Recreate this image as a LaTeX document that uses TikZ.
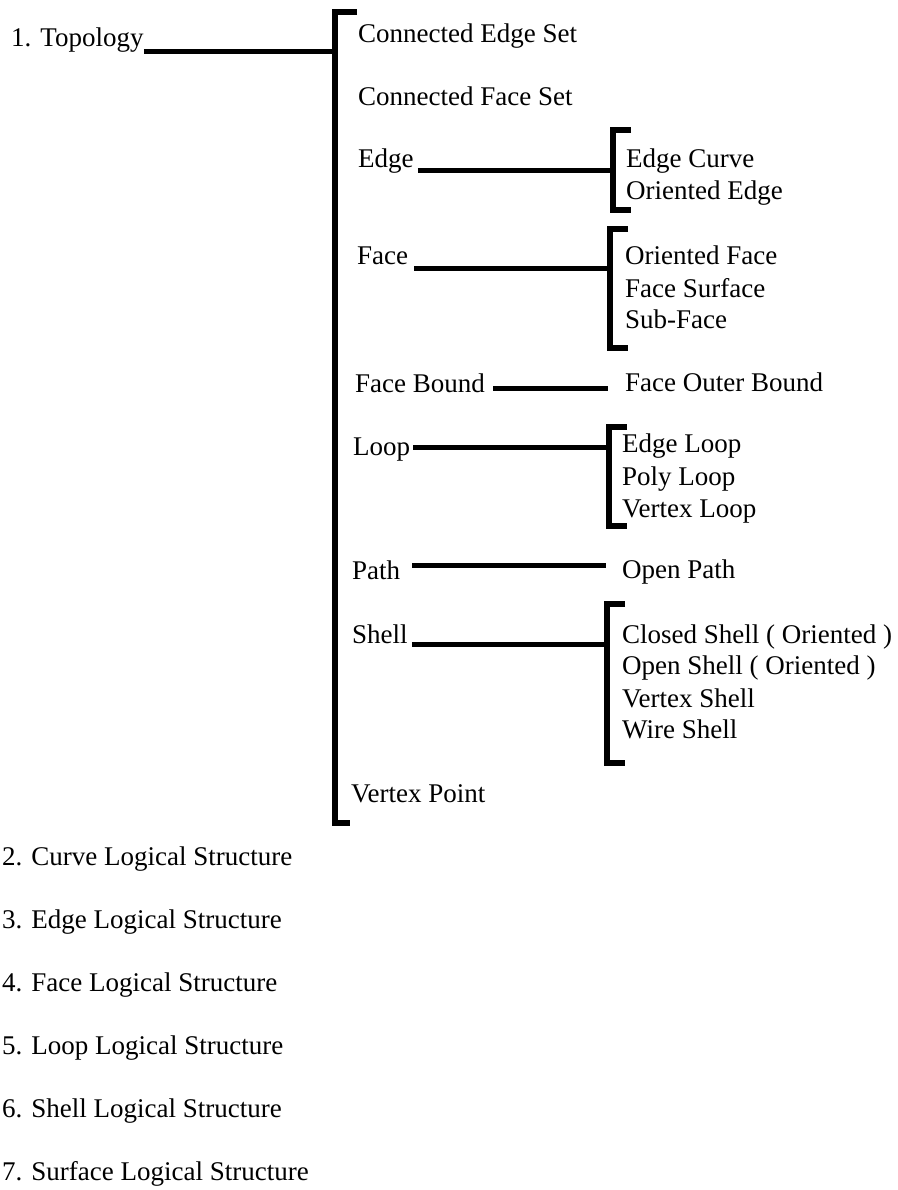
\documentclass[tikz,border=0pt]{standalone}
\usepackage{fontspec}
\setmainfont{Liberation Serif}

\begin{document}
\begin{tikzpicture}[x=1pt,y=-1pt,
  lbl/.style={anchor=base west,inner sep=0pt,font=\fontsize{27}{32}\selectfont},
  conn/.style={line width=5pt},
  brkt/.style={line width=5.5pt,line join=miter}]
\useasboundingbox (0,0) rectangle (897,1190);
% numbered list
\node[lbl] (topo) at (11,47) {1. Topology};
\foreach \y/\nm/\txt in {865/curve/{2. Curve Logical Structure},
  928/edgels/{3. Edge Logical Structure},
  991/facels/{4. Face Logical Structure},
  1054/loopls/{5. Loop Logical Structure},
  1117/shellls/{6. Shell Logical Structure},
  1180/surfls/{7. Surface Logical Structure}}
{
  \node[lbl] (\nm) at (2,\y) {\txt};
}
% topology entities
\foreach \x/\y/\nm/\txt in {358/43/ces/{Connected Edge Set},
  358/106/cfs/{Connected Face Set},
  358/168/edge/Edge,
  357/265/face/Face,
  355/392/fb/{Face Bound},
  353/455/loop/Loop,
  352/579/path/Path,
  352/643/shell/Shell,
  351/802/vp/{Vertex Point}}
{
  \node[lbl] (\nm) at (\x,\y) {\txt};
}
% sub entities
\foreach \x/\y/\nm/\txt in {626/168/ec/{Edge Curve},
  626/200/oe/{Oriented Edge},
  625/264/of/{Oriented Face},
  625/297/fsu/{Face Surface},
  625/328/sf/{Sub-Face},
  625/391/fob/{Face Outer Bound},
  622/452/el/{Edge Loop},
  622/485/pl/{Poly Loop},
  622/517/vl/{Vertex Loop},
  622/578/op/{Open Path},
  622/643/cs/{Closed Shell ( Oriented )},
  622/674/os/{Open Shell ( Oriented )},
  622/707/vs/{Vertex Shell},
  622/738/ws/{Wire Shell}}
{
  \node[lbl] (\nm) at (\x,\y) {\txt};
}
% brackets
\coordinate (mbT) at (335,12);
\coordinate (mbB) at (335,823);
\draw[brkt] ([xshift=22pt]mbT) -- (mbT) -- (mbB) -- ([xshift=15pt]mbB);
\foreach \nm/\x/\t/\b in {bE/613/130/210,bF/610/229/348,bL/609/427/526,bS/607/604/763}
{
  \coordinate (\nm T) at (\x,\t);
  \coordinate (\nm B) at (\x,\b);
  \draw[brkt] ([xshift=18pt]\nm T) -- (\nm T) -- (\nm B) -- ([xshift=18pt]\nm B);
}
\coordinate (fobL) at ([xshift=-17pt]fob.base west);
\coordinate (opL) at ([xshift=-16pt]op.base west);
% connectors
\draw[conn] ([yshift=-5pt]topo.base east) -- ([yshift=-5pt]topo.base east -| mbT);
\draw[conn] ([xshift=4pt,yshift=-3pt]edge.base east) -- ([yshift=-3pt]edge.base east -| bET);
\draw[conn] ([xshift=6pt,yshift=-3pt]face.base east) -- ([yshift=-3pt]face.base east -| bFT);
\draw[conn] ([xshift=8pt,yshift=4pt]fb.base east) -- ([yshift=4pt]fb.base east -| fobL);
\draw[conn] ([xshift=3pt,yshift=8pt]loop.base east) -- ([yshift=8pt]loop.base east -| bLT);
\draw[conn] ([xshift=12pt,yshift=14pt]path.base east) -- ([yshift=14pt]path.base east -| opL);
\draw[conn] ([xshift=4pt,yshift=-1pt]shell.base east) -- ([yshift=-1pt]shell.base east -| bST);
\end{tikzpicture}
\end{document}
